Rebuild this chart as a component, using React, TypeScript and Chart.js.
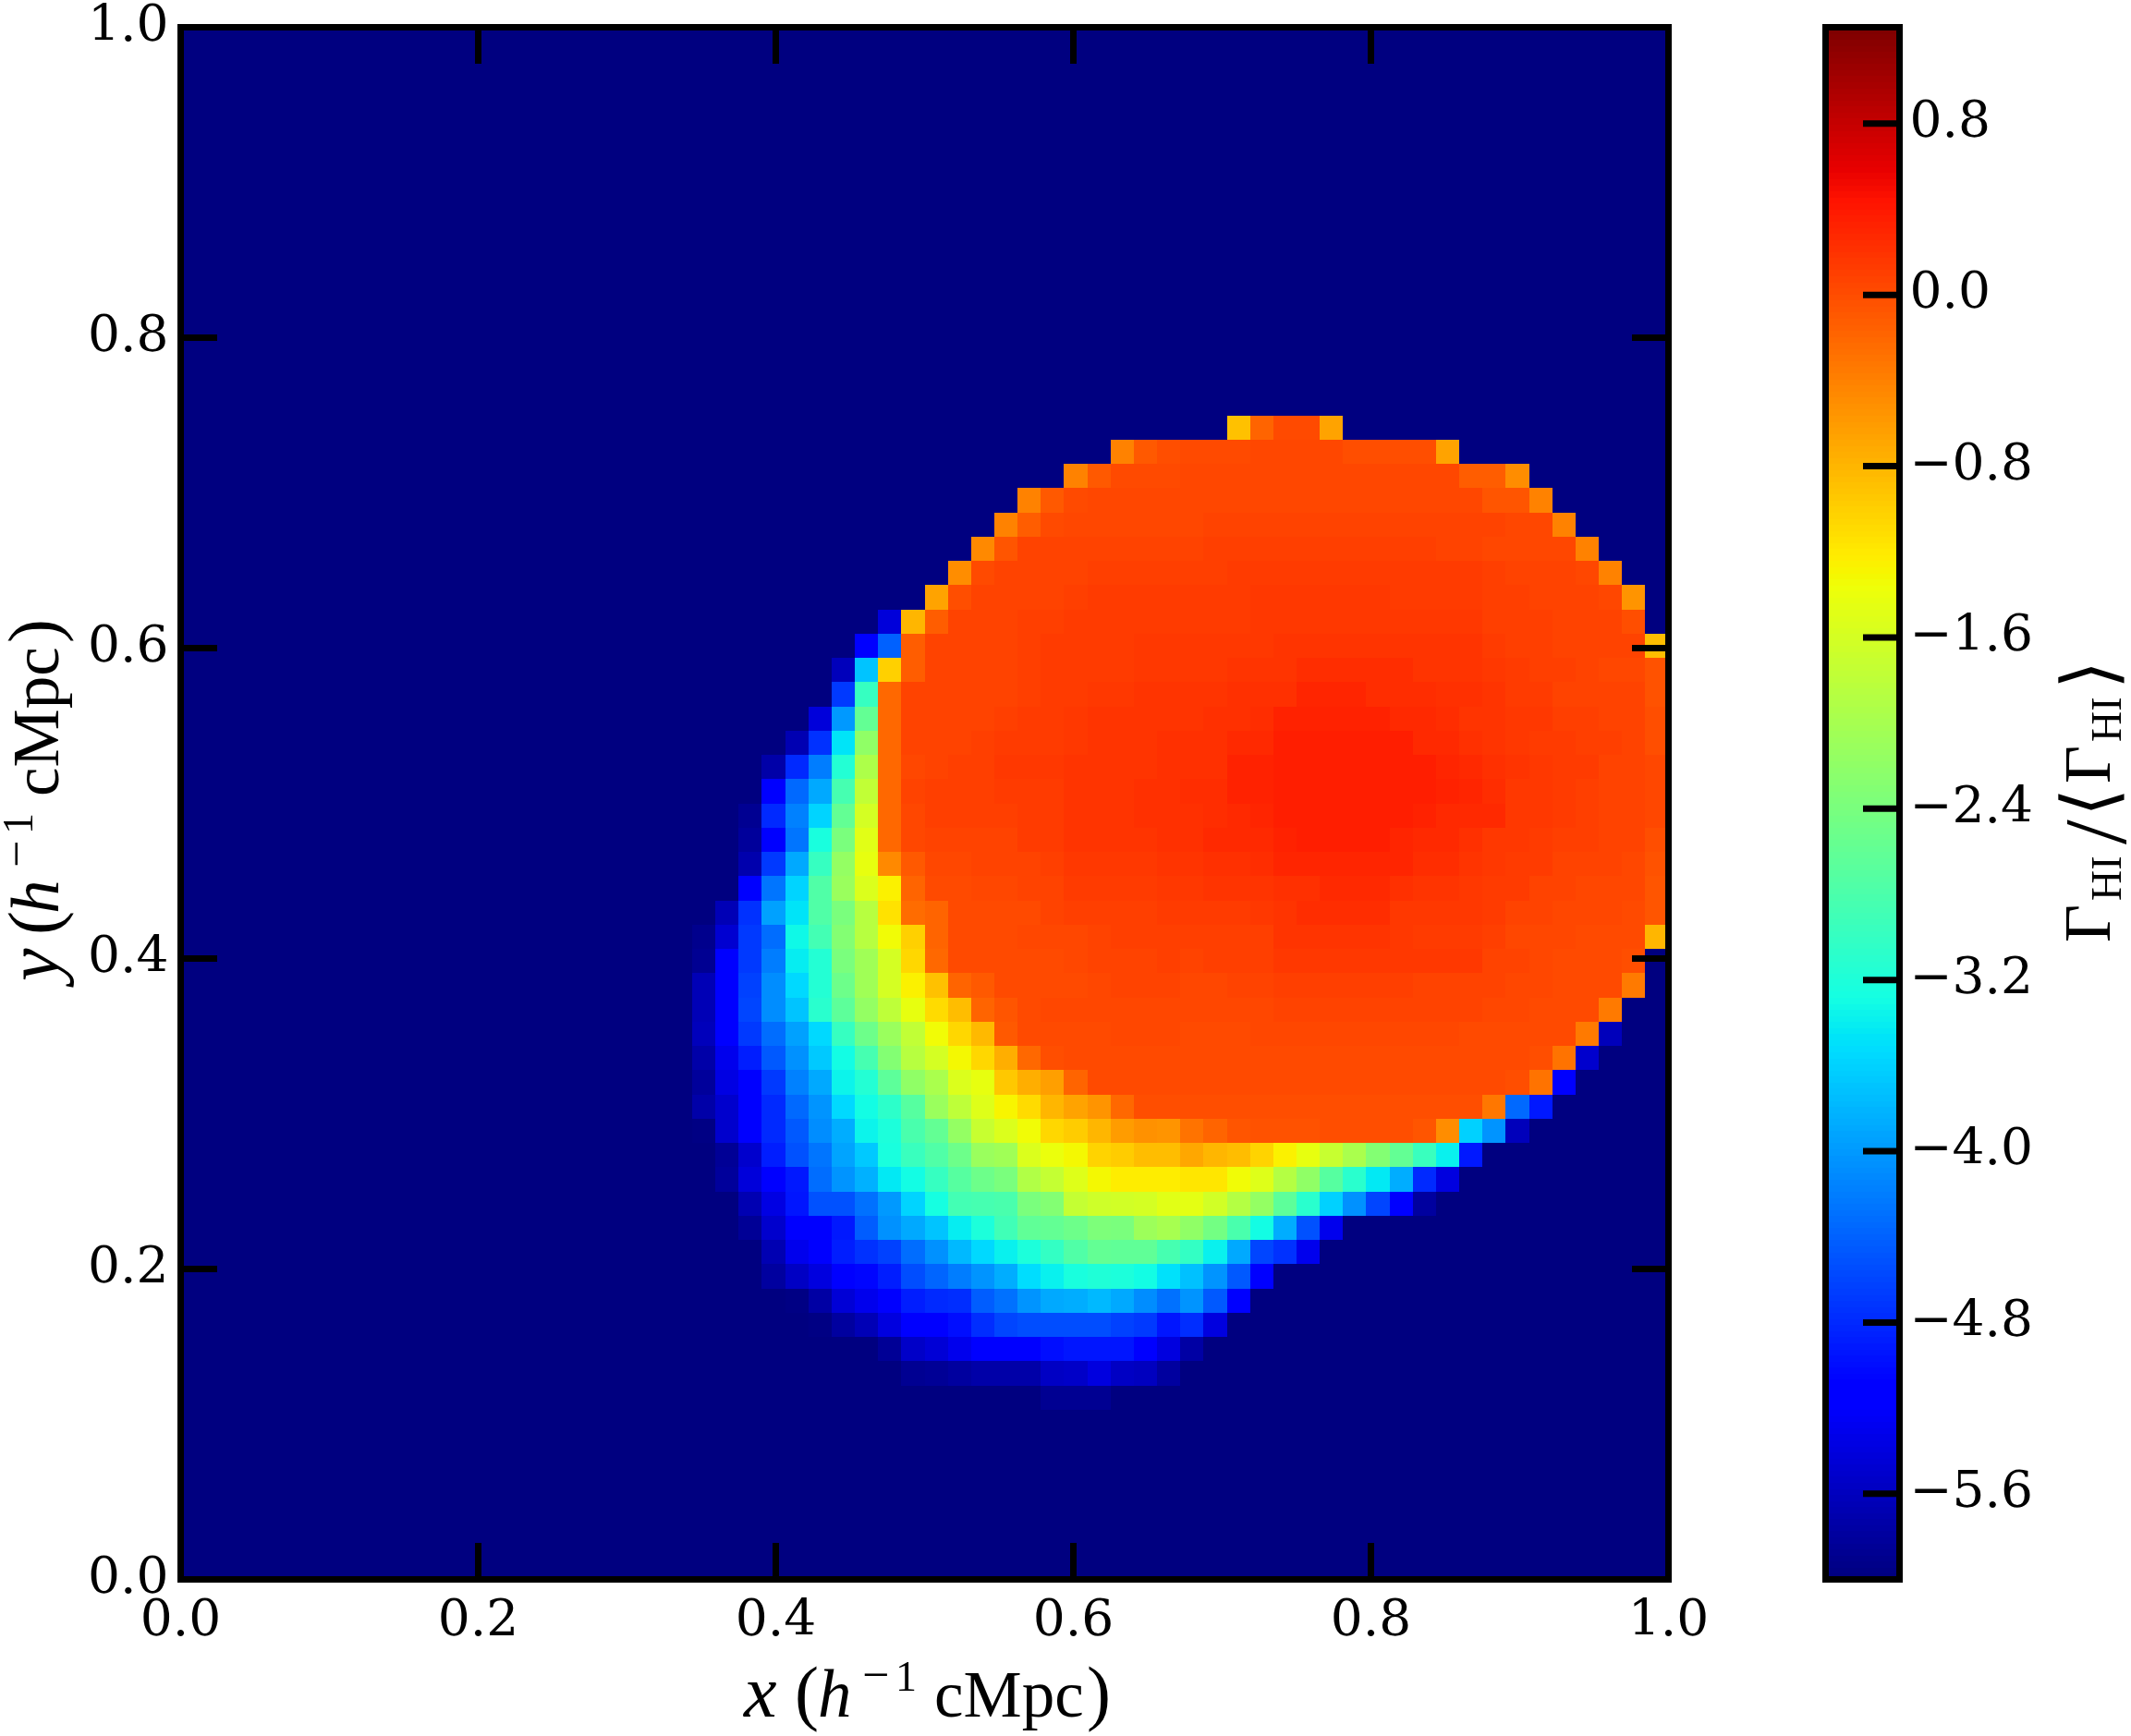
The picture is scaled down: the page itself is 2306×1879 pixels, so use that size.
import React, { useEffect, useRef } from "react";
import { Chart, registerables } from "chart.js";

Chart.register(...registerables);

const PAGE_W = 2306;
const PAGE_H = 1879;
const CB_LEFT = 1900;

const VMIN = -6.0;
const VMAX = 1.25;
const BG = -6.0;
const GRID_SIZE = 64;
const blank = (n: number): number[] => Array(n).fill(BG);

const xTickValues = [0, 0.2, 0.4, 0.6, 0.8, 1.0];
const yTickValues = [0, 0.2, 0.4, 0.6, 0.8, 1.0];
const cbTickValues = [0.8, 0, -0.8, -1.6, -2.4, -3.2, -4.0, -4.8, -5.6];

const row16 = [...blank(45), -0.9, -0.17, 0.02, 0.02, -0.67];
const row17 = [...blank(40), -0.4, -0.1, 0, 0.02, 0.02, 0.02, 0.04, 0.04, 0.04, 0.04, 0, 0, 0, 0, -0.67];
const row18 = [...blank(38), -0.4, -0.1, 0.03, 0.03, 0.03, 0.05, 0.05, 0.05, 0.05, 0.05, 0.05, 0.05, 0.05, 0.05, 0.05, 0.05, 0.05, -0.12, -0.12, -0.48];
const row19 = [...blank(36), -0.4, -0.1, 0.03, 0.05, 0.05, 0.05, 0.05, 0.06, 0.06, 0.06, 0.06, 0.06, 0.06, 0.06, 0.06, 0.06, 0.06, 0.06, 0.06, 0.06, -0.06, -0.06, -0.42];
const row20 = [...blank(35), -0.42, -0.12, 0.03, 0.06, 0.06, 0.06, 0.06, 0.06, 0.06, 0.08, 0.08, 0.08, 0.08, 0.08, 0.08, 0.08, 0.08, 0.08, 0.08, 0.08, 0.08, 0.08, 0.06, 0.04, -0.42];
const row21 = [...blank(34), -0.45, -0.08, 0.07, 0.07, 0.07, 0.07, 0.07, 0.07, 0.07, 0.07, 0.1, 0.1, 0.1, 0.1, 0.1, 0.1, 0.1, 0.1, 0.1, 0.1, 0.08, 0.08, 0.06, 0.06, 0.06, 0.05, -0.42];
const row22 = [...blank(33), -0.5, 0.02, 0.08, 0.08, 0.08, 0.08, 0.1, 0.1, 0.1, 0.11, 0.1, 0.1, 0.12, 0.12, 0.12, 0.12, 0.12, 0.12, 0.12, 0.12, 0.12, 0.13, 0.13, 0.1, 0.08, 0.08, 0.08, 0.05, -0.42];
const row23 = [...blank(32), -0.65, 0, 0.08, 0.08, 0.08, 0.08, 0.1, 0.12, 0.12, 0.13, 0.13, 0.13, 0.13, 0.13, 0.16, 0.16, 0.16, 0.16, 0.16, 0.16, 0.13, 0.13, 0.13, 0.13, 0.11, 0.11, 0.08, 0.08, 0.08, 0.06, -0.55];
const row24 = [...blank(30), -5.43, -0.8, -0.13, 0.08, 0.08, 0.08, 0.1, 0.1, 0.12, 0.14, 0.14, 0.14, 0.14, 0.14, 0.14, 0.14, 0.17, 0.17, 0.17, 0.17, 0.17, 0.17, 0.16, 0.16, 0.16, 0.16, 0.11, 0.11, 0.1, 0.07, 0.07, 0.07, 0];
const row25 = [...blank(29), -5.15, -4.39, -0.13, 0.08, 0.08, 0.08, 0.08, 0.1, 0.13, 0.13, 0.13, 0.14, 0.15, 0.15, 0.15, 0.15, 0.16, 0.16, 0.2, 0.2, 0.2, 0.2, 0.2, 0.2, 0.18, 0.18, 0.18, 0.13, 0.11, 0.1, 0.08, 0.08, 0.08, 0.08, -0.86];
const row26 = [...blank(28), -5.62, -3.7, -1.0, -0.13, 0.08, 0.08, 0.08, 0.08, 0.1, 0.13, 0.13, 0.13, 0.13, 0.16, 0.16, 0.16, 0.16, 0.2, 0.2, 0.2, 0.24, 0.24, 0.24, 0.24, 0.24, 0.18, 0.18, 0.18, 0.16, 0.13, 0.11, 0.11, 0.08, 0.06, 0.06, -0.05];
const row27 = [...blank(28), -4.67, -2.98, -0.2, 0.08, 0.08, 0.08, 0.08, 0.08, 0.1, 0.13, 0.13, 0.16, 0.17, 0.18, 0.18, 0.18, 0.19, 0.21, 0.23, 0.23, 0.3, 0.3, 0.3, 0.24, 0.24, 0.24, 0.22, 0.22, 0.18, 0.13, 0.13, 0.08, 0.08, 0.08, 0.08, -0.04];
const row28 = [...blank(27), -5.43, -4.0, -2.6, -0.2, 0.08, 0.08, 0.08, 0.08, 0.11, 0.14, 0.14, 0.17, 0.18, 0.19, 0.2, 0.2, 0.2, 0.21, 0.23, 0.24, 0.32, 0.32, 0.32, 0.32, 0.32, 0.28, 0.26, 0.24, 0.2, 0.2, 0.16, 0.16, 0.11, 0.11, 0.08, 0.08, -0.02];
const row29 = [...blank(26), -5.68, -4.74, -3.47, -2.2, -0.22, 0.08, 0.08, 0.08, 0.11, 0.13, 0.13, 0.13, 0.17, 0.18, 0.19, 0.2, 0.21, 0.21, 0.22, 0.26, 0.26, 0.35, 0.35, 0.35, 0.35, 0.35, 0.35, 0.28, 0.28, 0.23, 0.2, 0.16, 0.13, 0.13, 0.11, 0.11, 0.08, -0.02];
const row30 = [...blank(25), -5.74, -4.8, -4.2, -3.15, -1.95, -0.2, 0.06, 0.08, 0.1, 0.11, 0.15, 0.15, 0.15, 0.18, 0.18, 0.2, 0.2, 0.21, 0.22, 0.23, 0.32, 0.32, 0.37, 0.37, 0.37, 0.37, 0.37, 0.37, 0.37, 0.3, 0.26, 0.21, 0.18, 0.15, 0.13, 0.13, 0.08, 0.08, 0.05];
const row31 = [...blank(25), -5.15, -4.35, -3.88, -2.85, -1.78, -0.2, 0.07, 0.1, 0.1, 0.1, 0.14, 0.14, 0.14, 0.18, 0.18, 0.2, 0.21, 0.22, 0.24, 0.25, 0.32, 0.32, 0.37, 0.37, 0.37, 0.37, 0.37, 0.37, 0.37, 0.32, 0.3, 0.24, 0.15, 0.15, 0.13, 0.11, 0.08, 0.08, 0.05];
const row32 = [...blank(24), -5.86, -4.8, -4.18, -3.57, -2.6, -1.6, -0.2, 0.06, 0.1, 0.1, 0.1, 0.1, 0.13, 0.13, 0.18, 0.18, 0.2, 0.21, 0.22, 0.22, 0.24, 0.28, 0.3, 0.37, 0.37, 0.37, 0.37, 0.37, 0.37, 0.32, 0.28, 0.28, 0.26, 0.16, 0.16, 0.13, 0.11, 0.08, 0.08, 0.05];
const row33 = [...blank(24), -5.82, -5.15, -4.25, -3.25, -2.4, -1.47, -0.2, 0.05, 0.08, 0.08, 0.08, 0.08, 0.13, 0.13, 0.18, 0.18, 0.19, 0.2, 0.21, 0.22, 0.26, 0.26, 0.28, 0.32, 0.37, 0.37, 0.37, 0.37, 0.3, 0.28, 0.26, 0.22, 0.16, 0.16, 0.13, 0.1, 0.1, 0.08, 0.08, -0.02];
const row34 = [...blank(24), -5.7, -4.67, -3.88, -2.98, -2.15, -1.42, -0.45, -0.1, 0.05, 0.05, 0.08, 0.08, 0.08, 0.11, 0.15, 0.15, 0.15, 0.17, 0.18, 0.19, 0.22, 0.23, 0.25, 0.3, 0.3, 0.3, 0.3, 0.3, 0.3, 0.25, 0.24, 0.18, 0.15, 0.12, 0.12, 0.08, 0.08, 0.08, 0.05, -0.05];
const row35 = [...blank(24), -5.15, -4.25, -3.57, -2.75, -2.12, -1.53, -1.25, -0.17, 0.03, 0.03, 0.05, 0.05, 0.08, 0.08, 0.13, 0.13, 0.13, 0.14, 0.15, 0.16, 0.18, 0.2, 0.2, 0.23, 0.23, 0.28, 0.28, 0.28, 0.23, 0.18, 0.18, 0.15, 0.13, 0.13, 0.08, 0.08, 0.05, 0.05, 0.05, -0.07];
const row36 = [...blank(23), -5.65, -4.74, -3.96, -3.47, -2.75, -2.4, -1.85, -1.15, -0.25, -0.17, 0.03, 0.03, 0.03, 0.03, 0.08, 0.1, 0.1, 0.1, 0.11, 0.12, 0.13, 0.13, 0.14, 0.16, 0.2, 0.25, 0.25, 0.25, 0.25, 0.16, 0.16, 0.15, 0.15, 0.13, 0.08, 0.08, 0.05, 0.05, 0.05, 0.03, -0.07];
const row37 = [...blank(22), -5.9, -5.47, -4.67, -4.32, -3.33, -2.88, -2.3, -1.85, -1.35, -1.0, -0.17, 0.03, 0.03, 0.03, 0.06, 0.06, 0.06, 0.08, 0.09, 0.1, 0.1, 0.1, 0.11, 0.11, 0.11, 0.2, 0.2, 0.2, 0.2, 0.2, 0.16, 0.13, 0.13, 0.13, 0.1, 0.06, 0.06, 0.06, 0.03, 0.03, 0.03, -0.8];
const row38 = [...blank(22), -5.86, -5.15, -4.67, -4.2, -3.4, -3.15, -2.4, -2.05, -1.6, -1.05, -0.2, 0.02, 0.03, 0.03, 0.03, 0.03, 0.05, 0.08, 0.08, 0.08, 0.09, 0.08, 0.1, 0.1, 0.11, 0.15, 0.15, 0.15, 0.15, 0.15, 0.15, 0.15, 0.16, 0.16, 0.08, 0.08, 0.06, 0.03, 0.03, 0.03, -0.02];
const row39 = [...blank(22), -5.65, -5.15, -4.63, -4.1, -3.54, -3.15, -2.5, -2.05, -1.6, -1.25, -0.9, -0.17, -0.1, 0.02, 0.02, 0.02, 0.03, 0.04, 0.08, 0.08, 0.08, 0.06, 0.06, 0.08, 0.08, 0.11, 0.11, 0.11, 0.11, 0.11, 0.11, 0.08, 0.08, 0.08, 0.08, 0.06, 0.04, 0.02, 0.02, 0.02, -0.35];
const row40 = [...blank(22), -5.65, -5.15, -4.6, -4.1, -3.7, -3.1, -2.65, -2.15, -1.8, -1.42, -1.1, -0.86, -0.17, -0.08, 0.02, 0.05, 0.05, 0.05, 0.05, 0.05, 0.05, 0.04, 0.04, 0.06, 0.06, 0.08, 0.08, 0.08, 0.08, 0.08, 0.08, 0.07, 0.07, 0.07, 0.05, 0.05, 0.03, 0.02, 0.02, -0.35];
const row41 = [...blank(22), -5.62, -5.15, -4.67, -4.32, -3.96, -3.54, -2.98, -2.5, -2.1, -1.78, -1.35, -1.05, -0.82, -0.1, 0.01, 0.03, 0.03, 0.03, 0.05, 0.05, 0.05, 0.03, 0.03, 0.03, 0.05, 0.05, 0.05, 0.05, 0.05, 0.05, 0.05, 0.05, 0.05, 0.03, 0.03, 0.03, 0.02, 0.02, -0.35, -5.62];
const row42 = [...blank(22), -5.72, -5.3, -4.88, -4.45, -4.06, -3.66, -3.3, -2.85, -2.3, -1.85, -1.6, -1.32, -1.05, -0.75, -0.2, 0, 0.03, 0.03, 0.03, 0.03, 0.03, 0.02, 0.02, 0.02, 0.03, 0.03, 0.03, 0.03, 0.03, 0.03, 0.03, 0.03, 0.03, 0.03, 0.02, 0.02, 0, -0.3, -5.5];
const row43 = [...blank(22), -5.82, -5.37, -5.15, -4.67, -4.18, -3.88, -3.35, -3.15, -2.65, -2.2, -1.97, -1.55, -1.42, -0.95, -0.75, -0.62, -0.17, 0.02, 0.02, 0.02, 0.02, 0.01, 0.01, 0.01, 0.01, 0.01, 0.01, 0.01, 0.01, 0.01, 0.01, 0.02, 0.02, 0.02, 0.01, 0, -0.3, -5.15];
const row44 = [...blank(22), -5.74, -5.5, -5.15, -4.8, -4.35, -4.03, -3.54, -3.3, -3.08, -2.7, -2.1, -1.8, -1.5, -1.28, -1.08, -0.8, -0.67, -0.55, -0.2, 0, 0, 0, 0, 0, 0, 0, 0, 0, 0, 0, 0, 0, 0, -0.01, -0.33, -4.35, -4.9];
const row45 = [...blank(22), -5.97, -5.5, -5.15, -4.8, -4.45, -4.1, -3.85, -3.35, -3.2, -2.8, -2.6, -2.15, -1.7, -1.53, -1.35, -1.05, -0.98, -0.8, -0.6, -0.52, -0.55, -0.28, -0.17, -0.06, -0.03, -0.03, -0.03, -0.02, -0.02, -0.02, -0.02, -0.06, -0.48, -3.6, -4.03, -5.62];
const row46 = [...blank(23), -5.85, -5.5, -4.88, -4.52, -4.25, -3.92, -3.65, -3.25, -2.95, -2.75, -2.5, -2.12, -2.05, -1.53, -1.4, -1.32, -1.02, -0.98, -0.86, -0.86, -0.7, -0.8, -0.86, -1.02, -1.25, -1.42, -1.7, -1.97, -2.3, -2.6, -2.95, -3.37, -4.9];
const row47 = [...blank(23), -5.82, -5.43, -5.15, -4.9, -4.32, -4.03, -3.82, -3.43, -3.3, -2.98, -2.7, -2.5, -2.4, -1.9, -1.75, -1.5, -1.32, -1.22, -1.22, -1.22, -1.17, -1.17, -1.35, -1.5, -1.87, -2.2, -2.7, -3.1, -3.45, -3.85, -4.8, -5.4];
const row48 = [...blank(24), -5.68, -5.35, -4.95, -4.5, -4.5, -4.28, -4.0, -3.57, -3.27, -2.88, -2.85, -2.8, -2.4, -2.3, -1.75, -1.65, -1.62, -1.6, -1.47, -1.45, -1.62, -1.87, -2.15, -2.65, -3.1, -3.6, -4.06, -4.6, -5.15, -5.8];
const row49 = [...blank(24), -5.85, -5.5, -5.15, -5.1, -4.9, -4.42, -4.06, -3.88, -3.7, -3.4, -3.2, -2.9, -2.62, -2.58, -2.5, -2.35, -2.4, -2.08, -2.0, -2.2, -2.45, -2.8, -3.3, -3.85, -4.5, -5.3];
const row50 = [...blank(25), -5.68, -5.3, -5.2, -4.88, -4.75, -4.63, -4.32, -4.06, -3.78, -3.54, -3.38, -3.2, -3.0, -2.75, -2.58, -2.62, -2.62, -2.85, -3.02, -3.38, -3.88, -4.6, -4.75, -5.3];
const row51 = [...blank(25), -5.8, -5.55, -5.4, -5.15, -5.05, -4.88, -4.55, -4.38, -4.2, -4.03, -3.85, -3.52, -3.38, -3.25, -3.18, -3.2, -3.3, -3.5, -3.73, -4.03, -4.45, -5.1];
const row52 = [...blank(26), -5.95, -5.75, -5.45, -5.3, -5.15, -4.88, -4.8, -4.78, -4.42, -4.28, -4.03, -3.88, -3.85, -3.78, -3.88, -4.1, -4.28, -4.03, -4.45, -5.15];
const row53 = [...blank(27), -5.95, -5.8, -5.65, -5.4, -5.15, -5.1, -5.0, -4.78, -4.6, -4.55, -4.53, -4.53, -4.53, -4.63, -4.67, -4.95, -4.78, -5.4];
const row54 = [...blank(30), -5.85, -5.52, -5.45, -5.3, -5.15, -5.12, -5.1, -5.0, -4.95, -4.95, -4.95, -5.15, -5.4, -5.75];
const row55 = [...blank(31), -5.88, -5.85, -5.8, -5.72, -5.72, -5.72, -5.55, -5.52, -5.4, -5.55, -5.58, -5.8];
const row56 = [...blank(37), -5.88, -5.86, -5.86];

// Rows that hold anything but the background, keyed by their index from the top.
const rowsByIndex: Record<number, number[]> = {
  16: row16, 17: row17, 18: row18, 19: row19, 20: row20, 21: row21, 22: row22, 23: row23,
  24: row24, 25: row25, 26: row26, 27: row27, 28: row28, 29: row29, 30: row30, 31: row31,
  32: row32, 33: row33, 34: row34, 35: row35, 36: row36, 37: row37, 38: row38, 39: row39,
  40: row40, 41: row41, 42: row42, 43: row43, 44: row44, 45: row45, 46: row46, 47: row47,
  48: row48, 49: row49, 50: row50, 51: row51, 52: row52, 53: row53, 54: row54, 55: row55, 56: row56,
};

const buildCells = () => {
  const cells: { x: number; y: number; v: number }[] = [];
  for (let r = 0; r < GRID_SIZE; r++) {
    const row = rowsByIndex[r] || [];
    for (let c = 0; c < GRID_SIZE; c++) {
      cells.push({ x: (c + 0.5) / GRID_SIZE, y: 1 - (r + 0.5) / GRID_SIZE, v: c < row.length ? row[c] : BG });
    }
  }
  return cells;
};

const segment = (pts: [number, number][], t: number) => {
  for (let i = 1; i < pts.length; i++) {
    if (t <= pts[i][0]) {
      const [x0, y0] = pts[i - 1];
      const [x1, y1] = pts[i];
      return y0 + ((y1 - y0) * (t - x0)) / (x1 - x0);
    }
  }
  return pts[pts.length - 1][1];
};
const JET_R: [number, number][] = [[0, 0], [0.35, 0], [0.66, 1], [0.89, 1], [1, 0.5]];
const JET_G: [number, number][] = [[0, 0], [0.125, 0], [0.375, 1], [0.64, 1], [0.91, 0], [1, 0]];
const JET_B: [number, number][] = [[0, 0.5], [0.11, 1], [0.34, 1], [0.65, 0], [1, 0]];
const jet = (v: number) => {
  let t = (v - VMIN) / (VMAX - VMIN);
  t = Math.max(0, Math.min(1, t));
  t = Math.min(255, Math.floor(t * 256)) / 255;
  const ch = (p: [number, number][]) => Math.round(segment(p, t) * 255);
  return `rgb(${ch(JET_R)},${ch(JET_G)},${ch(JET_B)})`;
};

const SERIF = '"DejaVu Serif"';
const MATH = '"Liberation Serif"';
const TICK_FONT = 55;
const FRAME = 7;
const TICK_LEN = 39.5;

const fmtTick = (v: number) => (v < 0 ? "\u2212" : "") + Math.abs(v).toFixed(1);

type Part = { t: string; f: string; dx: number; dy?: number };
const axisLabelParts = (name: string, offs: number[]): Part[] => [
  { t: name, f: `italic 80px ${MATH}`, dx: offs[0] },
  { t: "(", f: `78px ${MATH}`, dx: offs[1] },
  { t: "h", f: `italic 73px ${MATH}`, dx: offs[2] },
  { t: "\u2212", f: `52px ${MATH}`, dx: offs[3], dy: -28 },
  { t: "1", f: `46px ${MATH}`, dx: offs[4], dy: -28 },
  { t: "cMpc", f: `71px ${MATH}`, dx: offs[5] },
  { t: ")", f: `78px ${MATH}`, dx: offs[6] },
];
const xLabelParts = axisLabelParts("x", [0, 55, 80, 128, 164, 206, 371]);
const yLabelParts = axisLabelParts("y", [0, 50, 73, 123, 159, 200, 366]);
const cbLabelParts: Part[] = [
  { t: "\u0393", f: `71px ${MATH}`, dx: 0 },
  { t: "HI", f: `46px ${MATH}`, dx: 45, dy: 12 },
  { t: "/", f: `96px ${MATH}`, dx: 106, dy: 17 },
  { t: "\u27E8", f: `200 80px "DejaVu Sans"`, dx: 136, dy: 5 },
  { t: "\u0393", f: `71px ${MATH}`, dx: 172 },
  { t: "HI", f: `46px ${MATH}`, dx: 217, dy: 12 },
  { t: "\u27E9", f: `200 80px "DejaVu Sans"`, dx: 274, dy: 5 },
];

const drawParts = (ctx: CanvasRenderingContext2D, parts: Part[], x: number, y: number, rotated: boolean) => {
  ctx.save();
  ctx.translate(x, y);
  if (rotated) ctx.rotate(-Math.PI / 2);
  ctx.fillStyle = "#000";
  ctx.textAlign = "left";
  ctx.textBaseline = "alphabetic";
  for (const p of parts) {
    ctx.font = p.f;
    ctx.fillText(p.t, p.dx, p.dy || 0);
  }
  ctx.restore();
};

const drawFrame = (ctx: CanvasRenderingContext2D, a: { left: number; right: number; top: number; bottom: number }) => {
  ctx.save();
  ctx.strokeStyle = "#000";
  ctx.lineWidth = FRAME;
  ctx.strokeRect(a.left, a.top, a.right - a.left, a.bottom - a.top);
  ctx.restore();
};

const line = (ctx: CanvasRenderingContext2D, x0: number, y0: number, x1: number, y1: number) => {
  ctx.beginPath();
  ctx.moveTo(x0, y0);
  ctx.lineTo(x1, y1);
  ctx.stroke();
};

const heatmapPlugin = {
  id: "heatmap",
  beforeDatasetsDraw(chart: any) {
    const { ctx, scales } = chart;
    const half = 0.5 / GRID_SIZE;
    for (const d of chart.data.datasets[0].data) {
      const x0 = Math.round(scales.x.getPixelForValue(d.x - half));
      const x1 = Math.round(scales.x.getPixelForValue(d.x + half));
      const y0 = Math.round(scales.y.getPixelForValue(d.y + half));
      const y1 = Math.round(scales.y.getPixelForValue(d.y - half));
      ctx.fillStyle = jet(d.v);
      ctx.fillRect(x0, y0, x1 - x0, y1 - y0);
    }
  },
  afterDatasetsDraw(chart: any) {
    const { ctx, scales, chartArea: a } = chart;
    ctx.save();
    ctx.strokeStyle = "#000";
    ctx.lineWidth = FRAME;
    for (const v of xTickValues) {
      const p = scales.x.getPixelForValue(v);
      line(ctx, p, a.bottom, p, a.bottom - TICK_LEN);
      line(ctx, p, a.top, p, a.top + TICK_LEN);
    }
    for (const v of yTickValues) {
      const p = scales.y.getPixelForValue(v);
      line(ctx, a.left, p, a.left + TICK_LEN, p);
      line(ctx, a.right, p, a.right - TICK_LEN, p);
    }
    ctx.restore();
    drawFrame(ctx, a);
    drawParts(ctx, xLabelParts, 805, 1858, false);
    drawParts(ctx, yLabelParts, 63, 1062, true);
  },
};

const colorbarPlugin = {
  id: "colorbar",
  beforeDatasetsDraw(chart: any) {
    const { ctx, scales, chartArea: a } = chart;
    const levels = 256;
    for (let i = 0; i < levels; i++) {
      const lo = VMIN + ((VMAX - VMIN) * i) / levels;
      const hi = VMIN + ((VMAX - VMIN) * (i + 1)) / levels;
      const y0 = Math.floor(scales.y.getPixelForValue(hi));
      const y1 = Math.ceil(scales.y.getPixelForValue(lo));
      ctx.fillStyle = jet((lo + hi) / 2);
      ctx.fillRect(a.left, y0, a.right - a.left, y1 - y0);
    }
  },
  afterDatasetsDraw(chart: any) {
    const { ctx, scales, chartArea: a } = chart;
    ctx.save();
    ctx.strokeStyle = "#000";
    ctx.lineWidth = FRAME;
    for (const v of cbTickValues) {
      const p = scales.y.getPixelForValue(v);
      line(ctx, a.right, p, a.right - TICK_LEN, p);
    }
    ctx.restore();
    drawFrame(ctx, a);
    drawParts(ctx, cbLabelParts, 2283 - CB_LEFT, 1020, true);
  },
};

const fixSize = (w: number | null, h: number | null) => (scale: any) => {
  if (w !== null) scale.width = w;
  if (h !== null) scale.height = h;
  scale.paddingLeft = scale.paddingRight = scale.paddingTop = scale.paddingBottom = 0;
};
const useTicks = (values: number[]) => (scale: any) => {
  scale.ticks = values.map((value) => ({ value }));
};

export default function App() {
  const mainRef = useRef<HTMLCanvasElement>(null);
  const cbRef = useRef<HTMLCanvasElement>(null);

  useEffect(() => {
    document.body.style.margin = "0";
    const base = {
      animation: false as const,
      responsive: false,
      devicePixelRatio: 1,
      plugins: { legend: { display: false }, tooltip: { enabled: false } },
    };
    const main = new Chart(mainRef.current!, {
      type: "scatter",
      data: { datasets: [{ data: buildCells(), pointRadius: 0, showLine: false }] },
      options: {
        ...base,
        layout: { padding: { left: 0, top: 29.5, right: PAGE_W - 1805.5, bottom: 0 } },
        scales: {
          x: {
            type: "linear",
            min: 0,
            max: 1,
            grid: { display: false, drawTicks: false },
            border: { display: false },
            afterBuildTicks: useTicks(xTickValues),
            afterFit: fixSize(null, PAGE_H - 1709.5),
            ticks: {
              autoSkip: false,
              maxRotation: 0,
              padding: 13,
              color: "#000",
              font: { family: SERIF, size: TICK_FONT },
              callback: (v: any) => fmtTick(Number(v)),
            },
          },
          y: {
            type: "linear",
            min: 0,
            max: 1,
            grid: { display: false, drawTicks: false },
            border: { display: false },
            afterBuildTicks: useTicks(yTickValues),
            afterFit: fixSize(195.5, null),
            ticks: {
              autoSkip: false,
              padding: 13,
              labelOffset: 0,
              color: "#000",
              font: { family: SERIF, size: TICK_FONT },
              callback: (v: any) => fmtTick(Number(v)),
            },
          },
        },
      },
      plugins: [heatmapPlugin],
    } as any);

    const cbLevels = cbTickValues.map((v) => ({ x: 0, y: v }));
    const cb = new Chart(cbRef.current!, {
      type: "scatter",
      data: { datasets: [{ data: cbLevels, pointRadius: 0, showLine: false }] },
      options: {
        ...base,
        layout: { padding: { left: 1975.5 - CB_LEFT, top: 29.5, right: 0, bottom: PAGE_H - 1709.5 } },
        scales: {
          x: { type: "linear", display: false, min: 0, max: 1 },
          y: {
            type: "linear",
            position: "right",
            min: VMIN,
            max: VMAX,
            grid: { display: false, drawTicks: false },
            border: { display: false },
            afterBuildTicks: useTicks(cbTickValues),
            afterFit: fixSize(PAGE_W - 2055.5, null),
            ticks: {
              autoSkip: false,
              padding: 11,
              labelOffset: 0,
              color: "#000",
              font: { family: SERIF, size: TICK_FONT },
              callback: (v: any) => fmtTick(Number(v)),
            },
          },
        },
      },
      plugins: [colorbarPlugin],
    } as any);

    return () => {
      main.destroy();
      cb.destroy();
    };
  }, []);

  return (
    <div style={{ position: "relative", width: PAGE_W, height: PAGE_H, overflow: "hidden", background: "#fff" }}>
      <canvas ref={mainRef} width={PAGE_W} height={PAGE_H} style={{ position: "absolute", left: 0, top: 0, display: "block" }} />
      <canvas ref={cbRef} width={PAGE_W - CB_LEFT} height={PAGE_H} style={{ position: "absolute", left: CB_LEFT, top: 0, display: "block" }} />
    </div>
  );
}
